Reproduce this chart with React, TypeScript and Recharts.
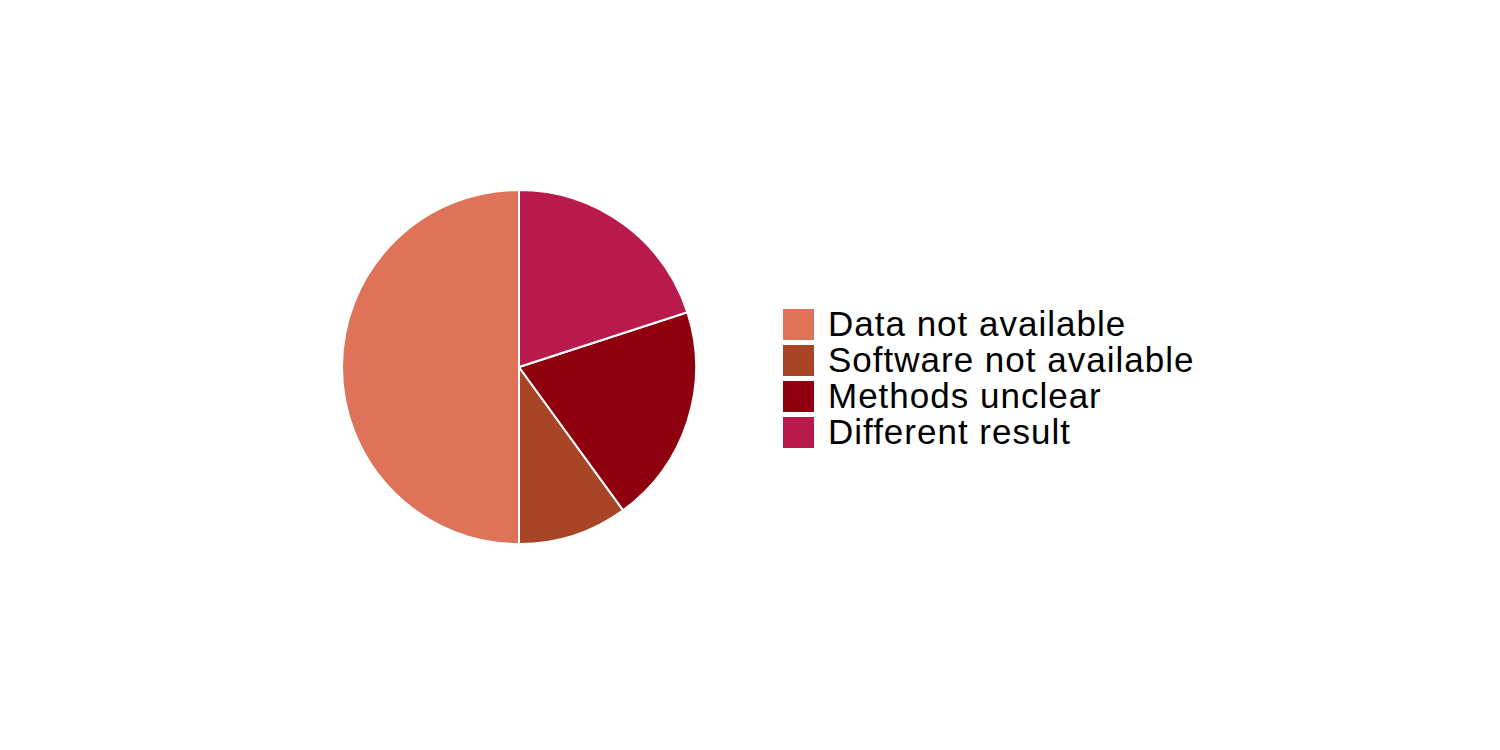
import React from "react";
import { PieChart, Pie, Cell, Legend } from "recharts";

const categories = ["Data not available", "Software not available", "Methods unclear", "Different result"];
const values = [50, 10, 20, 20];
const colors = ["#DE7359", "#A84527", "#8E000D", "#B81B4B"];

const data = categories.map((name, i) => ({ name, value: values[i] }));

const renderLegend = () => (
  <div style={{ fontFamily: "Liberation Sans, Arial, sans-serif", fontSize: 35, letterSpacing: 1, color: "#000" }}>
    {categories.map((c, i) => (
      <div key={c} style={{ display: "flex", alignItems: "center", height: 36 }}>
        <div style={{ width: 31, height: 31, background: colors[i], marginRight: 14 }} />
        <span style={{ lineHeight: "36px" }}>{c}</span>
      </div>
    ))}
  </div>
);

export default function App() {
  return (
    <div style={{ position: "absolute", left: 0, top: 0, background: "#fff" }}>
      <PieChart width={1500} height={750} margin={{ top: 0, right: 0, bottom: 0, left: 0 }}>
        <Pie
          data={data}
          dataKey="value"
          nameKey="name"
          cx={519}
          cy={367}
          outerRadius={177}
          startAngle={90}
          endAngle={450}
          stroke="#fff"
          strokeWidth={2}
          isAnimationActive={false}
        >
          {data.map((d, i) => (
            <Cell key={d.name} fill={colors[i]} />
          ))}
        </Pie>
        <Legend
          content={renderLegend}
          wrapperStyle={{ position: "absolute", left: 783, top: 306, width: 500 }}
        />
      </PieChart>
    </div>
  );
}
